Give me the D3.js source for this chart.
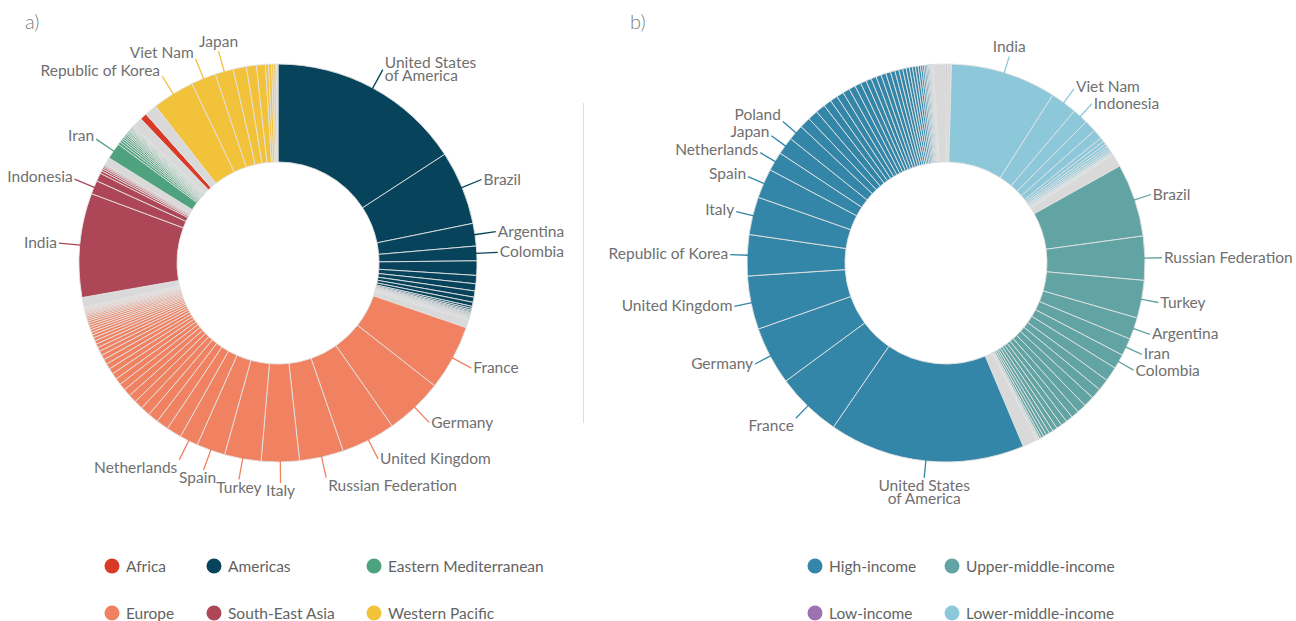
<!DOCTYPE html>
<html>
<head>
<meta charset="utf-8">
<script src="https://d3js.org/d3.v7.min.js"></script>
<style>
  body { margin: 0; background: #fff; }
  text { font-family: Lato, "Noto Sans", sans-serif; }
</style>
</head>
<body>
<div id="chart"></div>
<script>
// share of total (%) per country, grouped; only the named ones get a label
// a) WHO regions, drawn clockwise from 12 o'clock
var americasLabels = ["United States|of America", "Brazil", "Argentina", "Colombia"];
var americasValues = [15.8, 6.0, 1.83, 1.19, 1.17, 0.67, 0.58, 0.5, 0.42, 0.33, 0.17, 0.14, 0.11, 0.1, 0.08, 0.08, 0.07, 0.06, 0.06, 0.06, 0.04, 0.04, 0.03, 0.03, 0.03, 0.03];

var europeLabels = ["France", "Germany", "United Kingdom", "Russian Federation", "Italy", "Turkey", "Spain", "Netherlands"];
var europeValues = [5.31, 4.69, 4.42, 3.58, 3.08, 2.97, 2.33, 1.5, 1.22, 1.0, 0.86, 0.78, 0.72, 0.67, 0.61, 0.56, 0.53, 0.5, 0.47, 0.44, 0.42, 0.39, 0.36, 0.33, 0.31, 0.28, 0.26, 0.25, 0.22, 0.21, 0.19, 0.19, 0.19, 0.17, 0.15, 0.14, 0.13, 0.11, 0.1, 0.08, 0.08, 0.07, 0.06, 0.06, 0.04, 0.04, 0.03, 0.03, 0.03];

var seAsiaLabels = ["India", "Indonesia"];
var seAsiaValues = [8.44, 1.11, 0.67, 0.22, 0.17, 0.14, 0.11, 0.08, 0.08];

var eMedLabels = ["Iran"];
var eMedValues = [1.33, 0.22, 0.19, 0.17, 0.15, 0.14, 0.13, 0.11, 0.1, 0.1, 0.08, 0.08, 0.07, 0.07, 0.06, 0.06, 0.04, 0.04, 0.03, 0.03, 0.03];

var africaLabels = [];
var africaValues = [0.56];

var wPacLabels = ["Republic of Korea", "Viet Nam", "Japan"];
var wPacValues = [3.42, 2.03, 1.47, 1.08, 0.81, 0.72, 0.25, 0.25, 0.17, 0.17];

// minor countries of each region (grey), same order as the regions drawn
var regionOrder = ["Americas", "Europe", "South-East Asia", "Eastern Mediterranean", "Africa", "Western Pacific"];
var regionOther = [0.64, 0.78, 0.61, 0.81, 1.0, 0.17];

// b) World Bank income groups
var lowLabels = [];
var lowValues = [0.11];

var lowerMidLabels = ["India", "Viet Nam", "Indonesia"];
var lowerMidValues = [8.56, 2.14, 1.28, 0.97, 0.78, 0.33, 0.28, 0.22, 0.19, 0.17, 0.14, 0.11, 0.08, 0.06, 0.06, 0.03];

var upperMidLabels = ["Brazil", "Russian Federation", "Turkey", "Argentina", "Iran", "Colombia"];
var upperMidValues = [5.92, 3.56, 3.06, 1.78, 1.42, 1.19, 1.17, 0.94, 0.86, 0.86, 0.75, 0.64, 0.56, 0.5, 0.44, 0.39, 0.33, 0.28, 0.25, 0.22, 0.14, 0.08, 0.06, 0.06, 0.03, 0.03];

var highLabels = ["United States|of America", "France", "Germany", "United Kingdom", "Republic of Korea", "Italy", "Spain", "Netherlands", "Japan", "Poland"];
var highValues = [15.89, 5.31, 4.72, 4.33, 3.33, 3.06, 2.39, 1.56, 1.42, 1.28, 0.89, 0.83, 0.78, 0.64, 0.61, 0.58, 0.56, 0.53, 0.5, 0.47, 0.44, 0.43, 0.42, 0.4, 0.39, 0.36, 0.33, 0.31, 0.28, 0.26, 0.25, 0.24, 0.22, 0.19, 0.17, 0.14, 0.13, 0.11, 0.1, 0.08, 0.07, 0.06, 0.06, 0.04, 0.03, 0.03];

var incomeOrder = ["Low-income", "Lower-middle-income", "Upper-middle-income", "High-income"];
var incomeOther = [0.33, 1.03, 1.19, 1.03];

// legends (alphabetical, three / two per row)
var regionLegend = ["Africa", "Americas", "Eastern Mediterranean", "Europe", "South-East Asia", "Western Pacific"];
var incomeLegend = ["High-income", "Upper-middle-income", "Low-income", "Lower-middle-income"];

var colors = d3.scaleOrdinal()
  .domain(["Africa", "Americas", "Eastern Mediterranean", "Europe", "South-East Asia", "Western Pacific",
           "High-income", "Upper-middle-income", "Low-income", "Lower-middle-income"])
  .range(["#d93a26", "#07445c", "#4fa27e", "#f08262", "#ad4656", "#f2c23a",
          "#3386a8", "#62a3a3", "#9c72b0", "#8dc8da"]);
var grey = "#d9d9d9";

var w = 1296, h = 621;
var rOut = 199, rIn = 101;

var svg = d3.select("#chart").append("svg")
  .attr("width", w)
  .attr("height", h)
  .style("background", "#fff");

function buildSlices(groups, names, other) {
  var out = [];
  groups.forEach(function(g, gi) {
    g[1].forEach(function(v, i) {
      out.push({ value: v, label: g[0][i] || null, color: colors(names[gi]) });
    });
    out.push({ value: other[gi], label: null, color: grey });
  });
  return out;
}

function drawDonut(cx, cy, slices, lead) {
  var g = svg.append("g").attr("transform", "translate(" + cx + "," + cy + ")");
  var pie = d3.pie().sort(null).value(function(d) { return d.value; });
  var arc = d3.arc().innerRadius(rIn).outerRadius(rOut);
  var arcs = pie(slices);

  g.selectAll("path")
    .data(arcs)
    .enter()
    .append("path")
    .attr("d", arc)
    .attr("fill", function(d) { return d.data.color; })
    .attr("stroke", "#e2e2e2")
    .attr("stroke-width", 0.9);

  var lh = 13.5;
  // work out where each label goes
  var labs = arcs.filter(function(d) { return d.data.label; }).map(function(d) {
    var a = (d.startAngle + d.endAngle) / 2;
    var s = Math.sin(a), c = -Math.cos(a);   // c > 0 means lower half
    var r2 = rOut + lead;
    var ex = s * r2, ey = c * r2;
    var lines = d.data.label.split("|");
    var as = Math.abs(s), anchor, tx, ty;
    if ((c < 0 && as < 0.3) || (c >= 0 && as < 0.2)) {
      anchor = "middle"; tx = ex;
      ty = c > 0 ? ey + 13 : ey - 4 - (lines.length - 1) * lh;
    } else if (c >= 0 && s < 0 && as < 0.4) {
      anchor = "middle"; tx = ex - 6; ty = ey + 13;
    } else {
      anchor = s > 0 ? "start" : "end";
      tx = ex + (s > 0 ? 2 : -2);
      if (c > 0 && ((s < 0 && as < 0.75) || (s > 0 && as < 0.45))) ty = ey + 13;
      else if (c < 0 && s < 0) ty = ey + 5 + 6 * c;
      else ty = ey + 5 - (lines.length - 1) * lh / 2;
    }
    return { d: d, s: s, c: c, ex: ex, ey: ey, lines: lines, anchor: anchor, tx: tx, ty: ty };
  });

  // keep the stacked side labels apart
  var minGap = 17;
  ["start", "end"].forEach(function(side) {
    var up = labs.filter(function(l) { return l.anchor === side && l.c < 0 && Math.abs(l.s) >= 0.45; })
      .sort(function(a, b) { return b.ty - a.ty; });
    for (var i = 1; i < up.length; i++) {
      if (up[i - 1].ty - up[i].ty < minGap) up[i].ty = up[i - 1].ty - minGap;
    }
    var down = labs.filter(function(l) { return l.anchor === side && l.c >= 0 && Math.abs(l.s) >= 0.45; })
      .sort(function(a, b) { return a.ty - b.ty; });
    for (var j = 1; j < down.length; j++) {
      if (down[j].ty - down[j - 1].ty < minGap) down[j].ty = down[j - 1].ty + minGap;
    }
  });

  var lab = g.selectAll("g.lab")
    .data(labs)
    .enter()
    .append("g")
    .attr("class", "lab");

  lab.append("line")
    .attr("x1", function(l) { return l.s * (rOut - 1); })
    .attr("y1", function(l) { return l.c * (rOut - 1); })
    .attr("x2", function(l) { return l.ex; })
    .attr("y2", function(l) { return l.ey; })
    .attr("stroke", function(l) { return l.d.data.color; })
    .attr("stroke-width", 1.3);

  var t = lab.append("text")
    .attr("text-anchor", function(l) { return l.anchor; })
    .attr("fill", "#707070")
    .style("font-size", "15.5px");

  t.selectAll("tspan")
    .data(function(l) { return l.lines.map(function(x, i) { return { text: x, x: l.tx, y: l.ty + i * lh }; }); })
    .enter()
    .append("tspan")
    .attr("x", function(p) { return p.x; })
    .attr("y", function(p) { return p.y; })
    .text(function(p) { return p.text; });
}

function drawLegend(names, xs, ys) {
  var lg = svg.selectAll(null)
    .data(names)
    .enter()
    .append("g")
    .attr("transform", function(d, i) {
      return "translate(" + xs[i % xs.length] + "," + ys[Math.floor(i / xs.length)] + ")";
    });
  lg.append("circle").attr("r", 7.5).attr("fill", function(d) { return colors(d); });
  lg.append("text")
    .attr("x", 14)
    .attr("y", 5.5)
    .attr("fill", "#636363")
    .style("font-size", "15.5px")
    .text(function(d) { return d; });
}

var slicesA = buildSlices([
  [americasLabels, americasValues],
  [europeLabels, europeValues],
  [seAsiaLabels, seAsiaValues],
  [eMedLabels, eMedValues],
  [africaLabels, africaValues],
  [wPacLabels, wPacValues]
], regionOrder, regionOther);

var slicesB = buildSlices([
  [lowLabels, lowValues],
  [lowerMidLabels, lowerMidValues],
  [upperMidLabels, upperMidValues],
  [highLabels, highValues]
], incomeOrder, incomeOther);

drawDonut(278, 263, slicesA, 21);
drawDonut(946, 263, slicesB, 17);

// divider
svg.append("line")
  .attr("x1", 583.5).attr("x2", 583.5)
  .attr("y1", 103).attr("y2", 423)
  .attr("stroke", "#dedede");

// panel letters
svg.append("text").attr("x", 25).attr("y", 29).attr("fill", "#808080")
  .style("font-size", "20px").style("font-weight", 300).text("a)");
svg.append("text").attr("x", 630).attr("y", 29).attr("fill", "#808080")
  .style("font-size", "20px").style("font-weight", 300).text("b)");

drawLegend(regionLegend, [112, 214, 374], [566, 613]);
drawLegend(incomeLegend, [815, 952], [566, 613]);
</script>
</body>
</html>
